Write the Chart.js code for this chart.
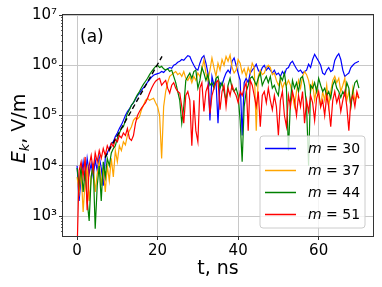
<!DOCTYPE html>
<html><head><meta charset="utf-8">
<script src="https://cdn.jsdelivr.net/npm/chart.js@4.4.0/dist/chart.umd.min.js"></script>
<style>html,body{margin:0;padding:0;background:#fff}canvas{display:block}</style>
</head><body>
<canvas id="c" width="382" height="287"></canvas>
<script>
// time, ns
const t = [
0,0.5,1,1.5,2,2.5,3,3.5,4,4.5,5,5.5,6,6.5,7,7.5,8,8.5,9,9.5,
10,10.5,11,11.5,12,12.5,13,13.5,14,14.5,15,15.5,16,16.5,17,17.5,18,18.5,19,19.5,
20,20.5,21,21.5,22,22.5,23,23.5,24,24.5,25,25.5,26,26.5,27,27.5,28,28.5,29,29.5,
30,30.5,31,31.5,32,32.5,33,33.5,34,34.5,35,35.5,36,36.5,37,37.5,38,38.5,39,39.5,
40,40.5,41,41.5,42,42.5,43,43.5,44,44.5,45,45.5,46,46.5,47,47.5,48,48.5,49,49.5,
50,50.5,51,51.5,52,52.5,53,53.5,54,54.5,55,55.5,56,56.5,57,57.5,58,58.5,59,59.5,
60,60.5,61,61.5,62,62.5,63,63.5,64,64.5,65,65.5,66,66.5,67,67.5,68,68.5,69,69.5,70];

const m30 = [
1e4,2e3,6e3,1.2e4,5e3,1.4e4,7e3,1.1e4,6e3,1.3e4,
8e3,1.5e4,9e3,4e3,1.4e4,1.8e4,2.2e4,2.8e4,3e4,3.8e4,
4.5e4,5.5e4,6.5e4,8e4,1e5,1.2e5,1.35e5,1.6e5,1.8e5,2.1e5,
2.5e5,2.8e5,3.2e5,3.6e5,4e5,4.6e5,
5.2e5,5.8e5,6.3e5,6.6e5,6.8e5,7e5,7.5e5,7.2e5,8e5,8.5e5,
9e5,8.7e5,1e6,1.05e6,1.15e6,1.2e6,1.3e6,1.25e6,1.4e6,1.55e6,
1.5e6,1.2e6,1e6,8.5e5,8e5,1.1e6,1.4e6,1.55e6,1.1e6,7e5,
8e4,6e5,4e5,5e5,7e4,4.5e5,4e5,5.5e5,7e5,8e5,
7e5,1.2e6,1.4e6,1e6,7e5,5e5,4e4,4.5e5,5.5e5,4.5e5,
7e5,8e5,9e5,1.05e6,8e5,7e5,9e5,1e6,8e5,9e5,
8e5,7e5,8e5,6.5e5,7e5,6e5,7.5e5,6.5e5,8.5e5,9e5,
1.1e6,1.2e6,1e6,8.5e5,7.5e5,8e5,7e5,7.5e5,8e5,1.05e6,
9e5,1.3e6,1.65e6,1.4e6,1.2e6,1e6,7e5,6.5e5,8e5,9e5,
7.5e5,8e5,1.25e6,1.5e6,1.7e6,1.3e6,8e5,6e5,6.5e5,7e5,
9e5,1e6,1.1e6,1.15e6,1.2e6];

const m37 = [
6e3,3e3,8e3,1.2e3,5e3,9e3,2e3,6e3,1e4,3e3,
7e3,1.2e4,4e3,9e3,3e3,1e4,5e3,1.4e4,6e3,2e4,
1.2e4,2.5e4,2e4,3e4,2.6e4,4e4,5e4,6e4,8e4,9e4,
8.5e4,9.5e4,1.3e5,1.6e5,2e5,2.2e5,2e5,2.1e5,2.2e5,1.8e5,
1.5e5,1e5,1.4e4,1.5e5,3e5,4.5e5,6e5,6.5e5,7e5,7.5e5,
6.5e5,7e5,6e5,7.5e5,5.5e5,5e5,6e5,4.5e5,6e5,5e5,
7e5,6e5,8e5,1.3e6,7e5,5e5,8e5,1.4e6,9e5,6e5,
1.1e6,8e5,1.3e6,1e6,1.5e6,1.2e6,1.6e6,9e5,7e5,8e5,
1.3e6,1.1e6,7e5,8.5e5,6e5,9e5,7e5,1.1e6,9e5,5e4,
6e5,8e5,6.5e5,7e5,9e5,1e6,9e5,6.5e5,7e5,5e5,
4e5,5e5,3.5e5,4.5e5,4e5,5e5,4e5,2.5e5,1.5e5,3e5,
5e5,3.5e5,6e5,7.5e5,6.5e5,5e5,3e5,4.5e5,2e5,3.5e5,
2.5e5,1.5e5,3e5,2e5,4e5,1.5e5,3e5,5e5,6e5,4.5e5,
5.5e5,3e5,4e5,5.5e5,2e5,3e5,1.5e5,3.5e5,2e5,2.5e5,
2.2e5];

const m44 = [
9e3,4e3,1e4,3e3,8e3,2e3,8e2,6e3,1.1e4,5.6e2,
4e3,1e4,2e3,1.2e4,6e3,1.4e4,1e4,1.8e4,2.2e4,2.5e4,
3.5e4,4.5e4,5.5e4,6e4,8e4,1.1e5,1.3e5,1.6e5,1.8e5,2.2e5,
2.6e5,3e5,3.6e5,4.2e5,4.8e5,5.5e5,6.5e5,7.5e5,8.5e5,9.5e5,
1e6,9e5,9.5e5,8.5e5,8e5,8.5e5,7.5e5,8e5,6e5,4.5e5,
3e5,2e5,7e4,1.5e5,5e5,6e5,7e5,5.5e5,7.5e5,8e5,
3.5e5,5e5,9e5,7e5,5e5,6.5e5,4e5,4.5e5,3.5e5,5.5e5,
6e5,3.5e5,4.5e5,3e5,2e5,4e5,5.5e5,3.5e5,3e5,3.5e5,
2.5e5,8e4,1.2e4,1.5e5,3e5,4e5,5.5e5,6e5,5e5,4e5,
5.5e5,7e5,4e5,5e5,6e5,4.5e5,6e5,3.5e5,4e5,3e5,
2.5e5,6e5,5e5,7e5,3.5e5,2e4,2e5,5e5,3.5e5,4.5e5,
3e5,5.5e5,6e5,4e5,1.5e5,1e4,4e5,3.5e5,4.5e5,3e5,
5.5e5,4e5,3e5,3.5e5,2.5e5,3e5,2.2e5,4e5,5e5,3.5e5,
3e5,2.3e5,3e5,2.5e5,4.5e5,3.5e5,1.5e5,3e5,4.5e5,5e5,
3.5e5];

const m51 = [
2e2,8e3,1.2e4,6e3,1.5e4,1.3e3,1e4,1.6e4,8e3,1.8e4,
1.2e4,2e4,1.4e4,2.2e4,1.6e4,2.5e4,2e4,2.8e4,2.4e4,3.4e4,
3e4,4e4,3.6e4,4.5e4,4e4,5.5e4,3.5e4,3.2e4,4e4,7e4,
1e5,1.2e5,1.4e5,1.6e5,1.8e5,2.2e5,2.8e5,3.5e5,4.2e5,4.8e5,
5.2e5,5.5e5,4e5,4.5e5,5e5,3.5e5,2.8e5,4e5,4.5e5,3.5e5,
3e5,2.8e5,1.5e5,7e4,2.5e5,3e5,2e5,2.5e4,2e5,5e4,
3e4,3.5e5,4.5e5,1.2e5,3e5,4e5,1.1e5,2.5e5,3.5e5,4.5e5,
5e5,1.3e5,3e5,4e5,1.5e5,3.5e5,2.5e5,4e5,3e5,2.5e5,
1.8e5,3e5,2.5e5,3.5e5,4.5e5,5e4,5e5,4e5,2.5e5,1.5e5,
3e5,6e4,2.5e5,3e5,1.8e5,3.5e5,2e5,1.3e5,2.5e5,1.5e5,
4e4,2e5,3e5,1e5,6e4,2.5e5,1.5e5,3e5,2e5,1e5,
2.5e5,1.5e5,3e5,7e4,2e5,1.2e5,2.5e5,1.8e5,8e4,2.2e5,
3e5,1.5e5,2e5,1e5,2.5e5,1.5e5,6e4,2e5,3e5,1.8e5,
2.5e5,1.2e5,2e5,3e5,1.5e5,5e4,2e5,2.5e5,1.5e5,3e5,
2.2e5];

// exponential-growth guide (dashed)
const fitT = [6.9, 21.1];
const fitE = [1.45e4, 1.5e6];

const seriesNames = ['m = 30', 'm = 37', 'm = 44', 'm = 51'];
const seriesColors = ['#0000ff', '#ffa500', '#008000', '#ff0000'];
const xTicks = [0, 20, 40, 60];
const xTickLabels = ['0', '20', '40', '60'];
const yTicks = [1e3, 1e4, 1e5, 1e6, 1e7];
const yTickLabels = ['10\u00b3', '10\u2074', '10\u2075', '10\u2076', '10\u2077'];
const yMinor = [500,600,700,800,900,2e3,3e3,4e3,5e3,6e3,7e3,8e3,9e3,
  2e4,3e4,4e4,5e4,6e4,7e4,8e4,9e4,2e5,3e5,4e5,5e5,6e5,7e5,8e5,9e5,
  2e6,3e6,4e6,5e6,6e6,7e6,8e6,9e6];

const FONT = 'DejaVu Sans';
const allSeries = [m30, m37, m44, m51];

const datasets = allSeries.map((arr, k) => ({
  label: seriesNames[k],
  data: t.map((x, i) => ({x: x, y: arr[i]})),
  borderColor: seriesColors[k],
  borderWidth: 1.2,
  pointRadius: 0,
  tension: 0,
  fill: false,
  order: 10 - k
}));
datasets.push({
  label: 'fit',
  data: fitT.map((x, i) => ({x: x, y: fitE[i]})),
  borderColor: '#000',
  borderWidth: 1.4,
  borderDash: [5, 3],
  pointRadius: 0,
  fill: false,
  order: 0
});

const bg = { id: 'bg', beforeDraw(c) { const ctx = c.ctx; ctx.save(); ctx.fillStyle = '#fff'; ctx.fillRect(0, 0, c.width, c.height); ctx.restore(); } };

const decor = {
  id: 'decor',
  afterDraw(c) {
    const ctx = c.ctx, a = c.chartArea, y = c.scales.y;
    ctx.save();
    // minor ticks
    ctx.strokeStyle = '#333'; ctx.lineWidth = 0.8;
    yMinor.forEach(v => {
      const py = Math.round(y.getPixelForValue(v)) + 0.5;
      ctx.beginPath(); ctx.moveTo(a.left - 2, py); ctx.lineTo(a.left, py); ctx.stroke();
    });
    // spines
    ctx.strokeStyle = '#333'; ctx.lineWidth = 1;
    ctx.strokeRect(a.left - 0.5, a.top - 0.5, a.right - a.left + 1, a.bottom - a.top + 1);
    // panel label
    ctx.fillStyle = '#000';
    ctx.font = '17px "' + FONT + '"';
    ctx.textBaseline = 'alphabetic'; ctx.textAlign = 'left';
    ctx.fillText('(a)', 80, 42);
    // x title
    ctx.font = '19px "' + FONT + '"';
    ctx.textAlign = 'center';
    ctx.fillText('t, ns', (a.left + a.right) / 2, 274);
    // y title
    ctx.save();
    ctx.translate(25, (a.top + a.bottom) / 2 + 3);
    ctx.rotate(-Math.PI / 2);
    ctx.textAlign = 'left';
    ctx.font = 'italic 19px "' + FONT + '"'; const wE = ctx.measureText('E').width;
    ctx.font = 'italic 13px "' + FONT + '"'; const wk = ctx.measureText('k').width;
    ctx.font = '19px "' + FONT + '"'; const wr = ctx.measureText(', V/m').width;
    let x0 = -(wE + wk + wr) / 2;
    ctx.font = 'italic 19px "' + FONT + '"'; ctx.fillText('E', x0, 0);
    ctx.font = 'italic 13px "' + FONT + '"'; ctx.fillText('k', x0 + wE, 4);
    ctx.font = '19px "' + FONT + '"'; ctx.fillText(', V/m', x0 + wE + wk, 0);
    ctx.restore();
    // legend
    const bx = 260, by = 136, bw = 105, bh = 92, r = 3;
    ctx.beginPath();
    ctx.moveTo(bx + r, by); ctx.lineTo(bx + bw - r, by); ctx.arcTo(bx + bw, by, bx + bw, by + r, r);
    ctx.lineTo(bx + bw, by + bh - r); ctx.arcTo(bx + bw, by + bh, bx + bw - r, by + bh, r);
    ctx.lineTo(bx + r, by + bh); ctx.arcTo(bx, by + bh, bx, by + bh - r, r);
    ctx.lineTo(bx, by + r); ctx.arcTo(bx, by, bx + r, by, r); ctx.closePath();
    ctx.fillStyle = 'rgba(255,255,255,0.8)'; ctx.fill();
    ctx.strokeStyle = '#cccccc'; ctx.lineWidth = 1; ctx.stroke();
    const rows = [148, 170, 192, 214];
    seriesNames.forEach((name, k) => {
      const ry = rows[k];
      ctx.strokeStyle = seriesColors[k]; ctx.lineWidth = 1.5;
      ctx.beginPath(); ctx.moveTo(265, ry + 0.5); ctx.lineTo(296, ry + 0.5); ctx.stroke();
      ctx.fillStyle = '#000';
      ctx.textAlign = 'left';
      ctx.font = 'italic 14px "' + FONT + '"';
      const parts = name.split(' ');
      ctx.fillText(parts[0], 308, ry + 5);
      const wm = ctx.measureText(parts[0]).width;
      ctx.font = '14px "' + FONT + '"';
      ctx.fillText(' ' + parts.slice(1).join(' '), 308 + wm, ry + 5);
    });
    ctx.restore();
  }
};

new Chart(document.getElementById('c'), {
  type: 'line',
  data: { datasets: datasets },
  options: {
    responsive: false,
    animation: false,
    devicePixelRatio: 1,
    layout: { padding: { top: 15, right: 9, left: 0, bottom: 0 } },
    plugins: { legend: { display: false }, tooltip: { enabled: false } },
    scales: {
      x: {
        type: 'linear', min: -3.5, max: 73.5,
        afterBuildTicks: s => { s.ticks = xTicks.map(v => ({ value: v })); },
        afterFit: s => { s.height = 51; },
        ticks: { font: { family: FONT, size: 15 }, color: '#000', padding: 2, maxRotation: 0,
          callback: (v, i) => xTickLabels[i] },
        grid: { color: '#c8c8c8', lineWidth: 1, tickColor: '#333', tickLength: 4 },
        border: { display: false }
      },
      y: {
        type: 'logarithmic', min: 400, max: 1e7,
        afterBuildTicks: s => { s.ticks = yTicks.map(v => ({ value: v, major: true })); },
        afterFit: s => { s.width = 63; },
        ticks: { font: { family: FONT, size: 15 }, color: '#000', padding: 2,
          callback: (v, i) => yTickLabels[i] },
        grid: { color: '#c8c8c8', lineWidth: 1, tickColor: '#333', tickLength: 4 },
        border: { display: false }
      }
    }
  },
  plugins: [bg, decor]
});
</script>
</body></html>
